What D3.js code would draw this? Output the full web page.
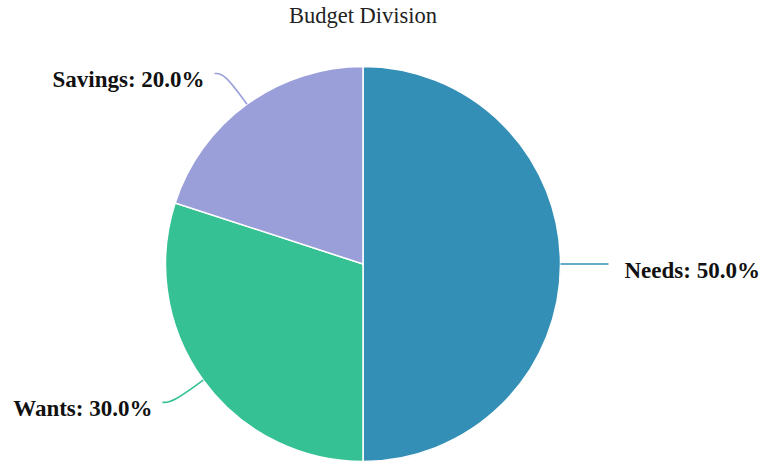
<!DOCTYPE html>
<html>
<head>
<meta charset="utf-8">
<script src="https://cdn.jsdelivr.net/npm/d3@7"></script>
<style>
  body { margin: 0; background: #fff; }
  text { font-family: "Liberation Serif", "Times New Roman", serif; }
</style>
</head>
<body>
<div class="pie"></div>
<script>
const categories = ["Needs", "Wants", "Savings"];
const values = [50, 30, 20];
const colors = ["#348fb6", "#35c194", "#9a9fda"];

function drawPie() {
  const dataset = categories.map((c, i) => ({ name: c, value: values[i], color: colors[i] }));

  const dimensions = {
    width: 781,
    height: 466,
    cx: 363,
    cy: 264,
    radius: 197.5,
  };

  const wrapper = d3.select(".pie")
    .append("svg")
    .attr("width", dimensions.width)
    .attr("height", dimensions.height)

  wrapper.append("text")
    .attr("x", dimensions.cx)
    .attr("y", 23)
    .attr("text-anchor", "middle")
    .style("font-size", "22.5px")
    .attr("fill", "#222")
    .text("Budget Division")

  const bounds = wrapper.append("g")
    .attr("transform", `translate(${dimensions.cx}, ${dimensions.cy})`)

  const pieGenerator = d3.pie()
    .sort(null)
    .value(d => d.value)

  const arcs = pieGenerator(dataset)
  const total = d3.sum(values)

  const arcGenerator = d3.arc()
    .innerRadius(0)
    .outerRadius(dimensions.radius)

  bounds.selectAll("path.slice")
    .data(arcs)
    .enter().append("path")
    .attr("class", "slice")
    .attr("d", arcGenerator)
    .attr("fill", d => d.data.color)
    .attr("stroke", "#fff")
    .attr("stroke-width", 1.5)

  // leader lines: out along the mid angle, then a short horizontal bit
  const len1 = 38
  const len2 = 10
  const linePoints = d => {
    const a = (d.startAngle + d.endAngle) / 2
    const sx = Math.sin(a), sy = -Math.cos(a)
    const p0 = [sx * dimensions.radius, sy * dimensions.radius]
    const p1 = [sx * (dimensions.radius + len1), sy * (dimensions.radius + len1)]
    const dir = sx >= 0 ? 1 : -1
    const p2 = [p1[0] + dir * len2, p1[1]]
    return [p0, p1, p2]
  }

  const lineGenerator = d3.line().curve(d3.curveBasis)

  bounds.selectAll("path.leader")
    .data(arcs)
    .enter().append("path")
    .attr("class", "leader")
    .attr("d", d => lineGenerator(linePoints(d)))
    .attr("fill", "none")
    .attr("stroke", d => d.data.color)
    .attr("stroke-width", 1.6)

  bounds.selectAll("text.label")
    .data(arcs)
    .enter().append("text")
    .attr("class", "label")
    .attr("x", d => {
      const p = linePoints(d)[2]
      return p[0] >= 0 ? p[0] + 16 : p[0] - 10
    })
    .attr("y", d => linePoints(d)[2][1] + 6)
    .attr("dominant-baseline", "central")
    .attr("text-anchor", d => linePoints(d)[2][0] >= 0 ? "start" : "end")
    .style("font-size", "23px")
    .style("font-weight", "bold")
    .attr("fill", "#111")
    .text(d => `${d.data.name}: ${(d.data.value / total * 100).toFixed(1)}%`)
}

drawPie();
</script>
</body>
</html>
